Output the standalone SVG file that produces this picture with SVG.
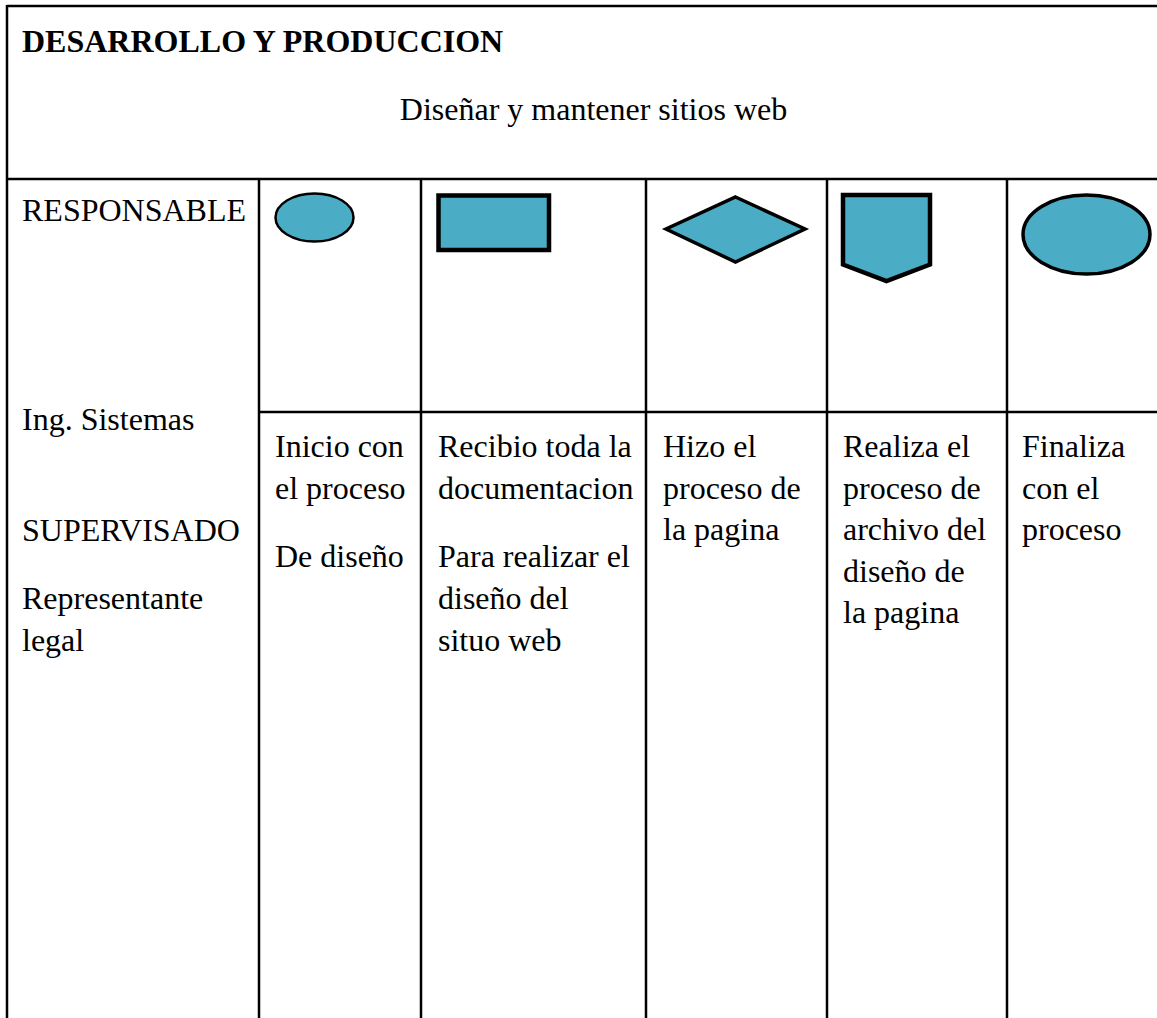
<svg xmlns="http://www.w3.org/2000/svg" width="1157" height="1018" viewBox="0 0 1157 1018">
<style>
.t{font-family:"Liberation Serif","Times New Roman",serif;font-size:32px;fill:#000}
.b{font-weight:bold}
.ln{stroke:#000;stroke-width:2.5;fill:none}
.sh{fill:#4BACC6;stroke:#000}
</style>
<rect width="1157" height="1018" fill="#fff"/>
<g id="grid">
<line class="ln" x1="7" y1="6" x2="1157" y2="6"/>
<line class="ln" x1="7" y1="5" x2="7" y2="1018"/>
<line class="ln" x1="7" y1="179" x2="1157" y2="179"/>
<line class="ln" x1="259" y1="179" x2="259" y2="1018"/>
<line class="ln" x1="421" y1="179" x2="421" y2="1018"/>
<line class="ln" x1="646" y1="179" x2="646" y2="1018"/>
<line class="ln" x1="827" y1="179" x2="827" y2="1018"/>
<line class="ln" x1="1007" y1="179" x2="1007" y2="1018"/>
<line class="ln" x1="259" y1="412" x2="1157" y2="412"/>
</g>
<g id="header">
<text class="t b" x="22" y="52">DESARROLLO Y PRODUCCION</text>
<text class="t" x="593.5" y="120" text-anchor="middle">Diseñar y mantener sitios web</text>
</g>
<g id="responsable">
<text class="t" x="22" y="221">RESPONSABLE</text>
<text class="t" x="22" y="430">Ing. Sistemas</text>
<text class="t" x="22" y="541">SUPERVISADO</text>
<text class="t" x="22" y="609">Representante</text>
<text class="t" x="22" y="651">legal</text>
</g>
<g id="step1">
<ellipse class="sh" cx="314.5" cy="217.5" rx="39" ry="24" stroke-width="2.5"/>
<text class="t" x="275" y="457">Inicio con</text>
<text class="t" x="275" y="499">el proceso</text>
<text class="t" x="275" y="567">De diseño</text>
</g>
<g id="step2">
<rect class="sh" x="438.5" y="195.5" width="110.5" height="54.5" stroke-width="4.5"/>
<text class="t" x="438" y="457">Recibio toda la</text>
<text class="t" x="438" y="499">documentacion</text>
<text class="t" x="438" y="567">Para realizar el</text>
<text class="t" x="438" y="609">diseño del</text>
<text class="t" x="438" y="651">situo web</text>
</g>
<g id="step3">
<polygon class="sh" points="735.5,197 805,229 735.5,262 666,229" stroke-width="3.5"/>
<text class="t" x="663" y="457">Hizo el</text>
<text class="t" x="663" y="499">proceso de</text>
<text class="t" x="663" y="540">la pagina</text>
</g>
<g id="step4">
<polygon class="sh" points="843,195 930,195 930,264.5 886.5,281 843,264.5" stroke-width="4.5"/>
<text class="t" x="843" y="457">Realiza el</text>
<text class="t" x="843" y="499">proceso de</text>
<text class="t" x="843" y="540">archivo del</text>
<text class="t" x="843" y="582">diseño de</text>
<text class="t" x="843" y="623">la pagina</text>
</g>
<g id="step5">
<ellipse class="sh" cx="1086.5" cy="234.5" rx="63.5" ry="39.5" stroke-width="3.5"/>
<text class="t" x="1022" y="457">Finaliza</text>
<text class="t" x="1022" y="499">con el</text>
<text class="t" x="1022" y="540">proceso</text>
</g>
<g id="connectors"></g>
</svg>
